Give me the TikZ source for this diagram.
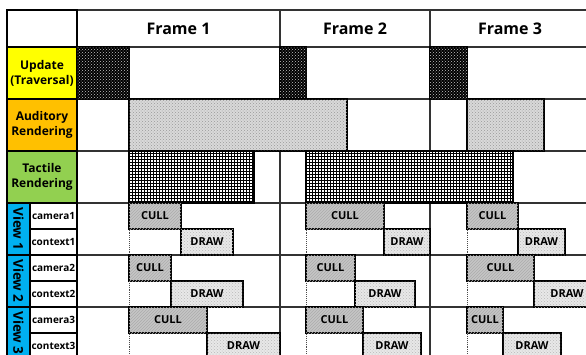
\documentclass[tikz,border=0pt]{standalone}
\usepackage{fontspec}
\setmainfont{Open Sans}
\usepackage{xcolor}
\usetikzlibrary{patterns}
\definecolor{updateyellow}{HTML}{FFFF00}
\definecolor{auditoryorange}{HTML}{FFC000}
\definecolor{tactilegreen}{HTML}{92D050}
\definecolor{viewblue}{HTML}{00B0F0}

\begin{document}
\begin{tikzpicture}[x=1pt, y=-1pt,
    gridline/.style={line width=1.1pt, black!80},
    cell/.style={draw, line width=1.4pt, anchor=north west, inner sep=0pt, outer sep=0pt, align=center},
    rowlabel/.style={cell, minimum width=70, minimum height=52, font=\bfseries\fontsize{12}{15}\selectfont},
    subcell/.style={cell, fill=white, minimum width=47, minimum height=26, font=\bfseries\fontsize{10}{11}\selectfont},
    viewtext/.style={rotate=-90, font=\bfseries\fontsize{13.5}{16}\selectfont},
    frametext/.style={font=\bfseries\fontsize{16}{19}\selectfont},
    updblock/.style={draw, line width=1.4pt, fill=black, postaction={pattern=crosshatch dots, pattern color=gray!45}},
    audblock/.style={draw, line width=1.4pt, fill=gray!30, postaction={pattern=crosshatch dots, pattern color=gray!80}},
    tacblock/.style={draw, line width=1.6pt, fill=white, postaction={pattern=grid, pattern color=black}},
    taskbox/.style={cell, minimum height=26, font=\bfseries\fontsize{11}{12}\selectfont},
    cullbox/.style={taskbox, fill=gray!45, postaction={pattern=north east lines, pattern color=gray!65}},
    drawbox/.style={taskbox, fill=gray!18, postaction={pattern=crosshatch dots, pattern color=gray!55}},
    startline/.style={densely dotted, line width=0.9pt, black!70}]
    \useasboundingbox (0,0) rectangle (586,354);
    \clip (0,0) rectangle (586,354);
    \fill[white] (0,0) rectangle (586,354);
    \draw[gridline] (7,10) -- (590,10) (7,47) -- (590,47) (7,99) -- (590,99) (7,151) -- (590,151)
        (7,203) -- (590,203) (7,255) -- (590,255) (7,307) -- (590,307);
    \draw[gridline] (7,10) -- (7,360) (77,10) -- (77,360) (280,10) -- (280,360) (430,10) -- (430,360) (30,203) -- (30,360);
    \node[frametext] (frame1) at (178.5,29) {Frame 1};
    \node[frametext] (frame2) at (355,29) {Frame 2};
    \node[frametext] (frame3) at (510,29) {Frame 3};
    \node[cell, minimum width=70, minimum height=37] (corner) at (7,10) {};
    \node[rowlabel, fill=updateyellow] (update) at (7,47) {Update\\(Traversal)};
    \node[rowlabel, fill=auditoryorange] (auditory) at (7,99) {Auditory\\Rendering};
    \node[rowlabel, fill=tactilegreen] (tactile) at (7,151) {Tactile\\Rendering};
    \draw[line width=1.4pt, fill=viewblue] (7,203) rectangle (30,255) (7,255) rectangle (30,307) (7,307) rectangle (30,359);
    \node[viewtext] (view1) at (18.5,229) {View 1};
    \node[viewtext] (view2) at (18.5,281) {View 2};
    \node[viewtext] (view3) at (18.5,333) {View 3};
    \node[subcell] (camera1) at (30,203) {camera1};
    \node[subcell] (context1) at (30,229) {context1};
    \node[subcell] (camera2) at (30,255) {camera2};
    \node[subcell] (context2) at (30,281) {context2};
    \node[subcell] (camera3) at (30,307) {camera3};
    \node[subcell] (context3) at (30,333) {context3};
    \draw[updblock] (77,47) rectangle (129,99) (280,47) rectangle (306,99) (430,47) rectangle (467,99);
    \draw[audblock] (129,99) rectangle (347,151) (467,99) rectangle (544,151);
    \draw[tacblock] (129,151) rectangle (254,203) (306,151) rectangle (513,203);
    \draw[startline] (129,203) -- (129,360) (306,203) -- (306,360) (467,203) -- (467,360);
    \node[cullbox, minimum width=52] (cull1a) at (129,203) {CULL};
    \node[drawbox, minimum width=52] (draw1a) at (181,229) {DRAW};
    \node[cullbox, minimum width=42] (cull2a) at (129,255) {CULL};
    \node[drawbox, minimum width=72] (draw2a) at (171,281) {DRAW};
    \node[cullbox, minimum width=78] (cull3a) at (129,307) {CULL};
    \node[drawbox, minimum width=73] (draw3a) at (207,333) {DRAW};
    \node[cullbox, minimum width=78] (cull1b) at (306,203) {CULL};
    \node[drawbox, minimum width=46] (draw1b) at (384,229) {DRAW};
    \node[cullbox, minimum width=49] (cull2b) at (306,255) {CULL};
    \node[drawbox, minimum width=60] (draw2b) at (355,281) {DRAW};
    \node[cullbox, minimum width=57] (cull3b) at (306,307) {CULL};
    \node[drawbox, minimum width=58] (draw3b) at (363,333) {DRAW};
    \node[cullbox, minimum width=51] (cull1c) at (467,203) {CULL};
    \node[drawbox, minimum width=47] (draw1c) at (518,229) {DRAW};
    \node[cullbox, minimum width=67] (cull2c) at (467,255) {CULL};
    \node[drawbox, minimum width=66] (draw2c) at (534,281) {DRAW};
    \node[cullbox, minimum width=36] (cull3c) at (467,307) {CULL};
    \node[drawbox, minimum width=58] (draw3c) at (503,333) {DRAW};
\end{tikzpicture}
\end{document}
